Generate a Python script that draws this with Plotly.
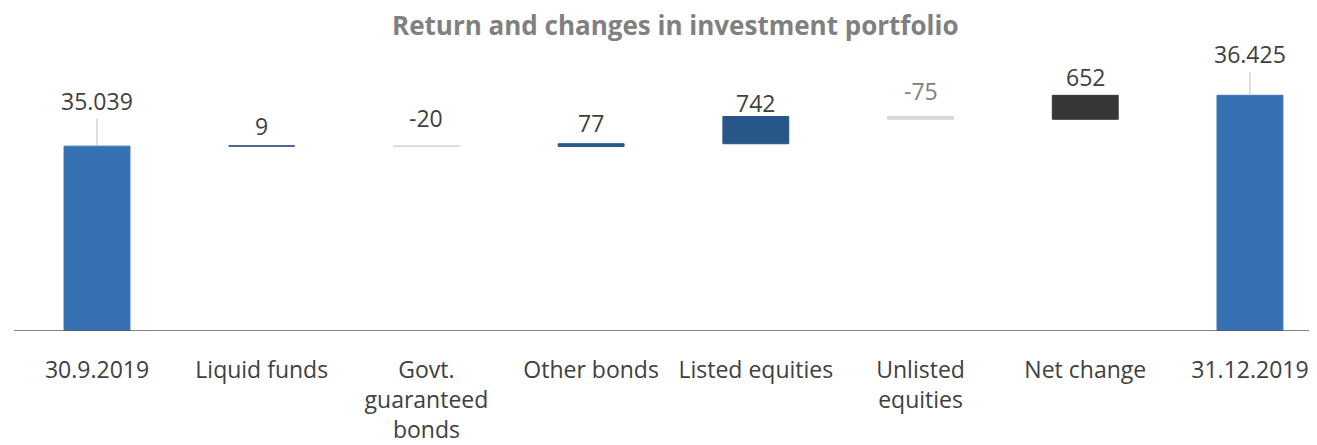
import plotly.graph_objects as go

# ---- data ----
categories = ["30.9.2019", "Liquid funds", "Govt.<br>guaranteed<br>bonds", "Other bonds",
              "Listed equities", "Unlisted<br>equities", "Net change", "31.12.2019"]
values = [35039, 9, -20, 77, 742, -75, 652, 36425]
is_total = [True, False, False, False, False, False, False, True]
title_text = "Return and changes in investment portfolio"

# ---- styles ----
bar_colors = ["#3672b3", "#2b4d7c", "#d9d9d9", "#285689", "#285689", "#d6d6d6", "#353638", "#3672b3"]
label_colors = ["#404040", "#404040", "#404040", "#404040", "#404040", "#808080", "#404040", "#404040"]
label_offsets = [45, 20, 28, 21, 14, 26, 18, 41]  # px above bar top
FONT = "Open Sans"

# compute bases / heights
bases, heights, tops = [], [], []
running = 0
for v, t in zip(values, is_total):
    if t:
        bases.append(0)
        heights.append(v)
        running = v
        tops.append(v)
    else:
        bases.append(running)
        heights.append(v)
        tops.append(max(running, running + v))
        running += v

xs = list(range(len(categories)))

fig = go.Figure()
fig.add_trace(go.Bar(
    x=xs, y=heights, base=bases, width=0.40,
    marker=dict(color=bar_colors, line=dict(color=bar_colors, width=1)),
    hoverinfo="skip", showlegend=False,
))

def fmt(v):
    return f"{v:,}".replace(",", ".")

annotations = []
for i, (v, t) in enumerate(zip(values, is_total)):
    if t:
        annotations.append(dict(
            x=xs[i], y=tops[i], xref="x", yref="y", text=fmt(v),
            showarrow=True, arrowhead=0, arrowwidth=1, arrowcolor="#bfbfbf",
            ax=0, ay=-label_offsets[i], standoff=0,
            font=dict(family=FONT, size=23, color=label_colors[i]),
        ))
    else:
        annotations.append(dict(
            x=xs[i], y=tops[i], xref="x", yref="y", text=fmt(v),
            showarrow=False, yshift=label_offsets[i], yanchor="middle",
            font=dict(family=FONT, size=23, color=label_colors[i]),
        ))

W, H = 1309, 437
ML, MT, MB = 6, 42, 109
plot_w, plot_h = W - ML, H - MT - MB
# title as an annotation above the plot area
annotations.append(dict(
    text=f"<b>{title_text}</b>", showarrow=False,
    xref="paper", yref="paper",
    x=(667 - ML) / plot_w, y=1 + (MT - 17) / plot_h,
    xanchor="center", yanchor="middle",
    font=dict(family=FONT, size=26, color="#808080"),
))

fig.update_layout(
    width=W, height=H,
    margin=dict(l=ML, r=0, t=MT, b=MB),
    paper_bgcolor="white", plot_bgcolor="white",
    annotations=annotations,
    xaxis=dict(tickmode="array", tickvals=xs, ticktext=categories,
               range=[-0.504, 7.407], showgrid=False, zeroline=False,
               showline=False, ticks="", ticklabelstandoff=23,
               tickfont=dict(family=FONT, size=23, color="#404040")),
    yaxis=dict(range=[30000, 37660], showgrid=False, zeroline=False,
               showticklabels=False, showline=False, ticks=""),
    shapes=[dict(type="line", xref="paper", yref="y", x0=0, x1=1, y0=30000, y1=30000,
                 line=dict(color="#595959", width=1.5))],
)

fig.write_html("out.html")
